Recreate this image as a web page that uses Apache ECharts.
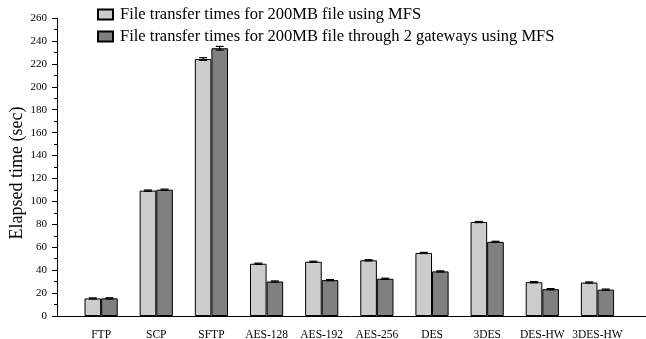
<!DOCTYPE html>
<html>
<head>
<meta charset="utf-8">
<script src="https://cdn.jsdelivr.net/npm/echarts@6/dist/echarts.min.js"></script>
<style>html,body{margin:0;padding:0;background:#fff}#c{width:646px;height:339px}</style>
</head>
<body>
<div id="c"></div>
<script>
var categories = ['FTP','SCP','SFTP','AES-128','AES-192','AES-256','DES','3DES','DES-HW','3DES-HW'];
var mfsTimes = [15.3, 109.4, 224.2, 45.6, 47.3, 48.6, 55.0, 82.0, 29.5, 29.2];
var gatewayTimes = [15.4, 110.2, 233.6, 30.1, 31.3, 32.5, 38.9, 64.7, 23.4, 23.0];
var mfsErr = [0.5, 0.5, 1.2, 0.5, 0.5, 0.5, 0.5, 0.5, 0.5, 0.5];
var gatewayErr = [0.5, 0.5, 1.6, 0.5, 0.5, 0.5, 0.5, 0.5, 0.5, 0.5];
var yTicks = [0,20,40,60,80,100,120,140,160,180,200,220,240,260];
var seriesNames = ['File transfer times for 200MB file using MFS','File transfer times for 200MB file through 2 gateways using MFS'];

var BAR_W = 16.6;
var FONT = '"Liberation Serif", "DejaVu Serif", serif';
function pairs(vals){ return vals.map(function(v,i){ return [i+1, v]; }); }
function errData(vals, errs){ return vals.map(function(v,i){ return [i+1, v, errs[i]]; }); }
function errRender(offset){
  return function(params, api){
    var x = api.value(0), v = api.value(1), e = api.value(2);
    var hi = api.coord([x, v + e]), lo = api.coord([x, v - e]);
    var cx = hi[0] + offset, hw = 4;
    var st = {stroke:'#000', lineWidth:1.2};
    return {type:'group', children:[
      {type:'line', shape:{x1:cx, y1:hi[1], x2:cx, y2:lo[1]}, style:st},
      {type:'line', shape:{x1:cx-hw, y1:hi[1], x2:cx+hw, y2:hi[1]}, style:st},
      {type:'line', shape:{x1:cx-hw, y1:lo[1], x2:cx+hw, y2:lo[1]}, style:st}
    ]};
  };
}
var chart = echarts.init(document.getElementById('c'), null, {renderer:'canvas'});
chart.setOption({
  animation:false,
  backgroundColor:'#fff',
  textStyle:{fontFamily:FONT},
  grid:{left:57, right:0, top:18, bottom:23, containLabel:false, outerBoundsMode:'none'},
  legend:{
    orient:'vertical', left:92, top:1, itemWidth:15, itemHeight:10, itemGap:5,
    icon:'rect',
    textStyle:{fontFamily:FONT, fontSize:16.5, color:'#000', padding:[0,0,0,2]},
    data:seriesNames
  },
  xAxis:{
    type:'value', min:0.2, max:10.88,
    axisLine:{show:true, lineStyle:{color:'#000', width:1}},
    axisTick:{show:false},
    splitLine:{show:false},
    axisLabel:{customValues:[1,2,3,4,5,6,7,8,9,10], color:'#000', fontFamily:FONT, fontSize:11.5, margin:13,
      formatter:function(v){ return categories[Math.round(v)-1] || ''; }}
  },
  yAxis:{
    type:'value', min:0, max:260, interval:20,
    name:'Elapsed time (sec)', nameLocation:'middle', nameGap:31, nameMoveOverlap:false,
    nameTextStyle:{fontFamily:FONT, fontSize:18, color:'#000', padding:[0,12,0,0]},
    axisLine:{show:true, lineStyle:{color:'#000', width:1}},
    axisTick:{show:true, inside:false, length:5, lineStyle:{color:'#000'}},
    minorTick:{show:true, splitNumber:2, length:3, lineStyle:{color:'#000'}},
    splitLine:{show:false},
    axisLabel:{color:'#000', fontFamily:FONT, fontSize:11, margin:10,
      formatter:function(v){ return yTicks.indexOf(v) >= 0 ? String(v) : ''; }}
  },
  series:[
    {name:seriesNames[0], type:'bar', data:pairs(mfsTimes), barWidth:BAR_W, barGap:'0%',
      itemStyle:{color:'#cccccc', borderColor:'#000', borderWidth:1}},
    {name:seriesNames[1], type:'bar', data:pairs(gatewayTimes), barWidth:BAR_W, barGap:'0%',
      itemStyle:{color:'#808080', borderColor:'#000', borderWidth:1}},
    {type:'custom', data:errData(mfsTimes, mfsErr), renderItem:errRender(-BAR_W/2), z:5, silent:true},
    {type:'custom', data:errData(gatewayTimes, gatewayErr), renderItem:errRender(BAR_W/2), z:5, silent:true}
  ]
});
</script>
</body>
</html>
